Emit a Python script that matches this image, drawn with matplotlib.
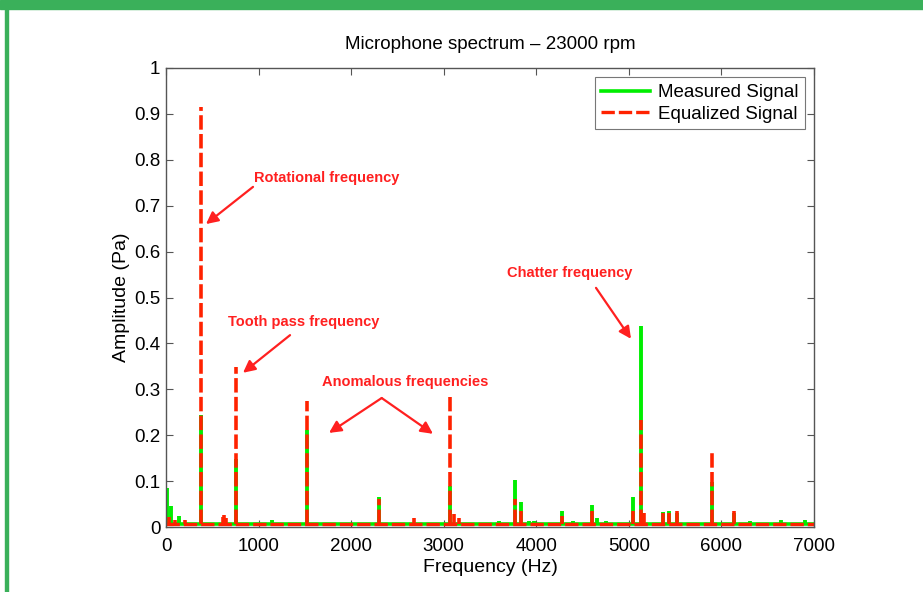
import numpy as np
import matplotlib
matplotlib.use('Agg')
import matplotlib.pyplot as plt
from matplotlib.patches import Rectangle

plt.rcParams['font.family'] = ['Liberation Sans', 'DejaVu Sans']

# --- data (Hz, Pa) ---
meas_freq = [15, 55, 140, 375, 627, 756, 1141, 1527, 1950, 2297, 3064, 3600,
             3767, 3835, 3920, 3980, 4278, 4400, 4602, 4660, 4750, 5045, 5131,
             5366, 5433, 5520, 5898, 6136, 6310, 6640, 6903]
meas_amp = [0.085, 0.045, 0.025, 0.245, 0.02, 0.148, 0.015, 0.211, 0.008, 0.066,
            0.09, 0.012, 0.102, 0.055, 0.014, 0.014, 0.035, 0.012, 0.047, 0.02,
            0.014, 0.066, 0.437, 0.032, 0.035, 0.03, 0.097, 0.03, 0.012, 0.016,
            0.016]
meas_floor = 0.006

eq_freq = [30, 100, 200, 375, 615, 630, 645, 756, 1527, 2297, 2680, 3064, 3110,
           3170, 3767, 3835, 4278, 4602, 5045, 5131, 5160, 5366, 5433, 5520,
           5898, 6136]
eq_amp = [0.022, 0.015, 0.015, 0.915, 0.022, 0.026, 0.02, 0.349, 0.274, 0.06,
          0.02, 0.284, 0.028, 0.02, 0.06, 0.035, 0.025, 0.035, 0.035, 0.233,
          0.03, 0.03, 0.03, 0.035, 0.163, 0.035]
eq_floor = 0.006

xticks = [0, 1000, 2000, 3000, 4000, 5000, 6000, 7000]
yticks = [0, 0.1, 0.2, 0.3, 0.4, 0.5, 0.6, 0.7, 0.8, 0.9, 1]
ytick_labels = ['0', '0.1', '0.2', '0.3', '0.4', '0.5', '0.6', '0.7', '0.8', '0.9', '1']

# annotations: text, text position, arrow tails/heads (data coords)
notes = [
    ('Rotational frequency', (1739, 0.760), [((940, 0.741), (432, 0.660))]),
    ('Tooth pass frequency', (1485, 0.447), [((1340, 0.418), (832, 0.336))]),
    ('Anomalous frequencies', (2582, 0.316), [((2330, 0.281), (1761, 0.205)),
                                              ((2330, 0.281), (2884, 0.203))]),
    ('Chatter frequency', (4364, 0.553), [((4645, 0.521), (5023, 0.410))]),
]

GREEN = '#00ee00'
RED = '#ff2200'
DASH = (0, (4, 1.2))

fig = plt.figure(figsize=(9.23, 5.92), dpi=100)
# green slide frame
fig.patches.append(Rectangle((0, 1 - 9 / 592), 1, 9 / 592, transform=fig.transFigure,
                             color='#3ab05a', zorder=0))
fig.patches.append(Rectangle((5 / 923, 0), 2.5 / 923, 1, transform=fig.transFigure,
                             color='#3ab05a', zorder=0))

ax = fig.add_axes([166 / 923, 1 - 527 / 592, 648 / 923, 459 / 592])

# measured signal: noise floor + spectral lines
ax.plot([0, 7000], [meas_floor, meas_floor], color=GREEN, lw=2.6, label='Measured Signal')
ax.vlines(meas_freq, meas_floor, meas_amp, color=GREEN, lw=2.8)
# equalized signal on top, dashed
ax.plot([0, 7000], [eq_floor, eq_floor], color=RED, lw=2.4, linestyle=DASH,
        label='Equalized Signal')
ax.vlines(eq_freq, eq_floor, eq_amp, color=RED, lw=2.6, linestyles=[DASH])

for text, pos, arrows in notes:
    ax.text(pos[0], pos[1], text, color='#ff2020', fontsize=10.5, fontweight='bold',
            ha='center', va='center')
    for tail, head in arrows:
        ax.annotate('', xy=head, xytext=tail,
                    arrowprops=dict(arrowstyle='-|>', color='#ff2020', lw=1.6,
                                    mutation_scale=18, shrinkA=0, shrinkB=0))

ax.set_xlim(0, 7000)
ax.set_ylim(0, 1)
ax.set_xticks(xticks)
ax.set_xticklabels([str(t) for t in xticks])
ax.set_yticks(yticks)
ax.set_yticklabels(ytick_labels)
ax.tick_params(direction='in', length=5, width=0.8, color='#555555', labelsize=13.5,
               top=True, right=True, pad=4)
ax.tick_params(axis='x', pad=8)
for s in ax.spines.values():
    s.set_color('#555555')
    s.set_linewidth(1.0)

ax.set_title('Microphone spectrum – 23000 rpm', fontsize=13.5, pad=14)
ax.set_xlabel('Frequency (Hz)', fontsize=14, labelpad=3)
ax.set_ylabel('Amplitude (Pa)', fontsize=14, labelpad=3)

leg = ax.legend(loc='upper right', fontsize=13.5, frameon=True, fancybox=False,
                edgecolor='#555555', handlelength=2.6, borderpad=0.35,
                labelspacing=0.25, handletextpad=0.4, borderaxespad=0.5)
leg.get_frame().set_linewidth(0.8)

fig.savefig('out.png', dpi=100)
